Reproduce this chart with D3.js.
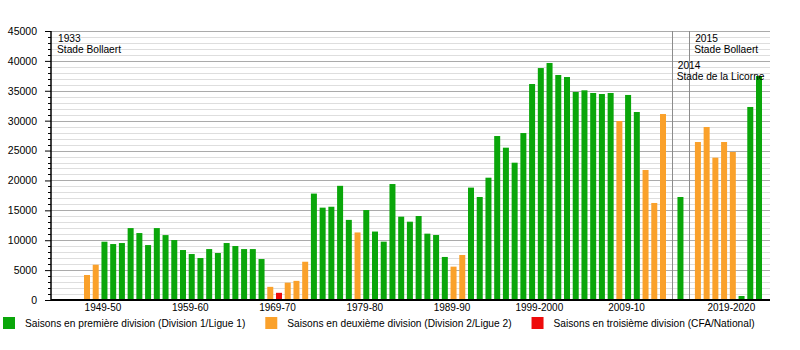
<!DOCTYPE html>
<html>
<head>
<meta charset="utf-8">
<script src="https://cdn.jsdelivr.net/npm/d3@7"></script>
<style>
  html, body { margin: 0; padding: 0; background: #fff; }
  svg { display: block; font-family: "Liberation Sans", Arial, Helvetica, sans-serif; }
</style>
</head>
<body>
<svg id="chart" width="800" height="350"></svg>
<script>
// Seasons in display order; "|2014" and "|2015" are empty slots that carry the stadium-change markers.
const categories = [
  "1947-48","1948-49","1949-50","1950-51","1951-52","1952-53","1953-54","1954-55","1955-56","1956-57",
  "1957-58","1958-59","1959-60","1960-61","1961-62","1962-63","1963-64","1964-65","1965-66","1966-67",
  "1967-68","1968-69","1969-70","1970-71","1971-72","1972-73","1973-74","1974-75","1975-76","1976-77",
  "1977-78","1978-79","1979-80","1980-81","1981-82","1982-83","1983-84","1984-85","1985-86","1986-87",
  "1987-88","1988-89","1989-90","1990-91","1991-92","1992-93","1993-94","1994-95","1995-96","1996-97",
  "1997-98","1998-99","1999-2000","2000-01","2001-02","2002-03","2003-04","2004-05","2005-06","2006-07",
  "2007-08","2008-09","2009-10","2010-11","2011-12","2012-13","2013-14","|2014","2014-15","|2015",
  "2015-16","2016-17","2017-18","2018-19","2019-2020","2020-21","2021-22","2022-23"
];

// Average home attendance per season (null on marker slots).
const attendance = [
  4180, 5900, 9750, 9360, 9530, 12030, 11200, 9190, 12030, 10860,
  10030, 8360, 7690, 7020, 8520, 7860, 9530, 9030, 8520, 8520,
  6850, 2200, 1200, 2900, 3200, 6400, 17800, 15450, 15600, 19100,
  13400, 11300, 15050, 11450, 9760, 19400, 13940, 13100, 14050, 11100,
  10870, 7200, 5580, 7530, 18800, 17230, 20460, 27430, 25480, 22970,
  27930, 36130, 38800, 39650, 37640, 37300, 34800, 35080, 34630, 34460,
  34630, 29940, 34300, 31450, 21750, 16230, 31110, null, 17230, null,
  26430, 28940, 23810, 26430, 24760, 670, 32290, 37470
];

// Division level played that season (1, 2 or 3; null on marker slots).
const division = [
  2, 2, 1, 1, 1, 1, 1, 1, 1, 1,
  1, 1, 1, 1, 1, 1, 1, 1, 1, 1,
  1, 2, 3, 2, 2, 2, 1, 1, 1, 1,
  1, 2, 1, 1, 1, 1, 1, 1, 1, 1,
  1, 1, 2, 2, 1, 1, 1, 1, 1, 1,
  1, 1, 1, 1, 1, 1, 1, 1, 1, 1,
  1, 2, 1, 1, 2, 2, 2, null, 1, null,
  2, 2, 2, 2, 2, 1, 1, 1
];

// Seasons labelled on the horizontal axis.
const tickLabels = ["1949-50","1959-60","1969-70","1979-80","1989-90","1999-2000","2009-10","2019-2020"];

// Stadium changes.
const eventYears = ["1933", "2014", "2015"];
const eventStadiums = ["Stade Bollaert", "Stade de la Licorne", "Stade Bollaert"];
const eventSlots = [null, "|2014", "|2015"];

// Legend entries.
const legendLabels = [
  "Saisons en première division (Division 1/Ligue 1)",
  "Saisons en deuxième division (Division 2/Ligue 2)",
  "Saisons en troisième division (CFA/National)"
];

const divisionColor = { 1: "#0aa60a", 2: "#faa12b", 3: "#ee0b0b" };

const svg = d3.select("#chart");
const plotLeft = 51, plotRight = 770, plotTop = 31, plotBottom = 300;

const x = d3.scaleLinear()
  .domain([-4.125, 78.26])
  .range([plotLeft, plotRight]);
const barWidth = 6;

const y = d3.scaleLinear().domain([0, 45000]).range([plotBottom, plotTop]);

// Horizontal grid: light lines every 1000, darker every 5000.
const minorVals = d3.range(1000, 45001, 1000).filter(v => v % 5000 !== 0);
const majorVals = d3.range(5000, 45001, 5000);
svg.append("g").selectAll("line").data(minorVals).join("line")
  .attr("x1", plotLeft).attr("x2", plotRight)
  .attr("y1", d => Math.round(y(d)) + 0.5).attr("y2", d => Math.round(y(d)) + 0.5)
  .attr("stroke", "#dedede").attr("stroke-width", 1);
svg.append("g").selectAll("line").data(majorVals).join("line")
  .attr("x1", plotLeft).attr("x2", plotRight)
  .attr("y1", d => Math.round(y(d)) + 0.5).attr("y2", d => Math.round(y(d)) + 0.5)
  .attr("stroke", "#ababab").attr("stroke-width", 1);

// Stadium-change marker lines.
const eventX = eventSlots.map(s => s === null ? plotLeft : x(categories.indexOf(s)));
svg.append("g").selectAll("line").data(eventX.filter((d, i) => eventSlots[i] !== null)).join("line")
  .attr("x1", d => Math.round(d) + 0.5).attr("x2", d => Math.round(d) + 0.5)
  .attr("y1", plotTop).attr("y2", plotBottom)
  .attr("stroke", "#8c8c8c").attr("stroke-width", 1);

// Bars.
const bars = categories.map((c, i) => ({ c, i, v: attendance[i], d: division[i] }))
  .filter(b => b.v !== null);
svg.append("g").selectAll("rect").data(bars).join("rect")
  .attr("x", b => x(b.i) - barWidth / 2)
  .attr("width", barWidth)
  .attr("y", b => y(b.v))
  .attr("height", b => y(0) - y(b.v))
  .attr("fill", b => divisionColor[b.d]);

// Y axis with major and minor ticks.
const yAxis = svg.append("g").attr("transform", `translate(${plotLeft},0)`);
yAxis.call(d3.axisLeft(y).tickValues(d3.range(0, 45001, 5000)).tickSize(6).tickPadding(8).tickFormat(d3.format("d")))
  .call(g => g.select(".domain").remove())
  .call(g => g.selectAll(".tick line").attr("stroke", "#000"))
  .call(g => g.selectAll("text").attr("font-size", 10.5).attr("fill", "#000")
    .attr("font-family", "'Liberation Sans', Arial, sans-serif"));
yAxis.append("g").selectAll("line").data(minorVals).join("line")
  .attr("x1", -3).attr("x2", 0)
  .attr("y1", d => Math.round(y(d)) + 0.5).attr("y2", d => Math.round(y(d)) + 0.5)
  .attr("stroke", "#000");
yAxis.append("line")
  .attr("x1", 0).attr("x2", 0).attr("y1", plotTop).attr("y2", plotBottom)
  .attr("stroke", "#000").attr("stroke-width", 1.5);

// X axis: baseline plus season labels under their bars.
const xAxis = svg.append("g").attr("transform", `translate(0,${plotBottom})`);
xAxis.append("line")
  .attr("x1", plotLeft).attr("x2", plotRight).attr("y1", 0).attr("y2", 0)
  .attr("stroke", "#000").attr("stroke-width", 1.8);
xAxis.selectAll("text").data(tickLabels).join("text")
  .attr("x", d => x(categories.indexOf(d)) - 1.5)
  .attr("y", 11)
  .attr("text-anchor", "middle")
  .attr("font-size", 10)
  .attr("fill", "#000")
  .text(d => d);

// Stadium annotations.
const ann = svg.append("g").attr("font-size", 10.2).attr("fill", "#000");
const rowY = [41.5, 68.5, 41.5];
eventYears.forEach((yr, i) => {
  const tx = eventX[i] + (i === 0 ? 6 : 5);
  ann.append("text").attr("x", tx + 1).attr("y", rowY[i]).text(yr);
  ann.append("text").attr("x", tx).attr("y", rowY[i] + 11).text(eventStadiums[i]);
});

// Legend.
const legend = svg.append("g");
let lx = 3;
legendLabels.forEach((label, i) => {
  legend.append("rect").attr("x", lx).attr("y", 317).attr("width", 12).attr("height", 12)
    .attr("fill", divisionColor[i + 1]);
  const t = legend.append("text").attr("x", lx + 22).attr("y", 327)
    .attr("font-size", 10.2).attr("fill", "#000").text(label);
  lx = lx + 22 + t.node().getComputedTextLength() + 20;
});
</script>
</body>
</html>
